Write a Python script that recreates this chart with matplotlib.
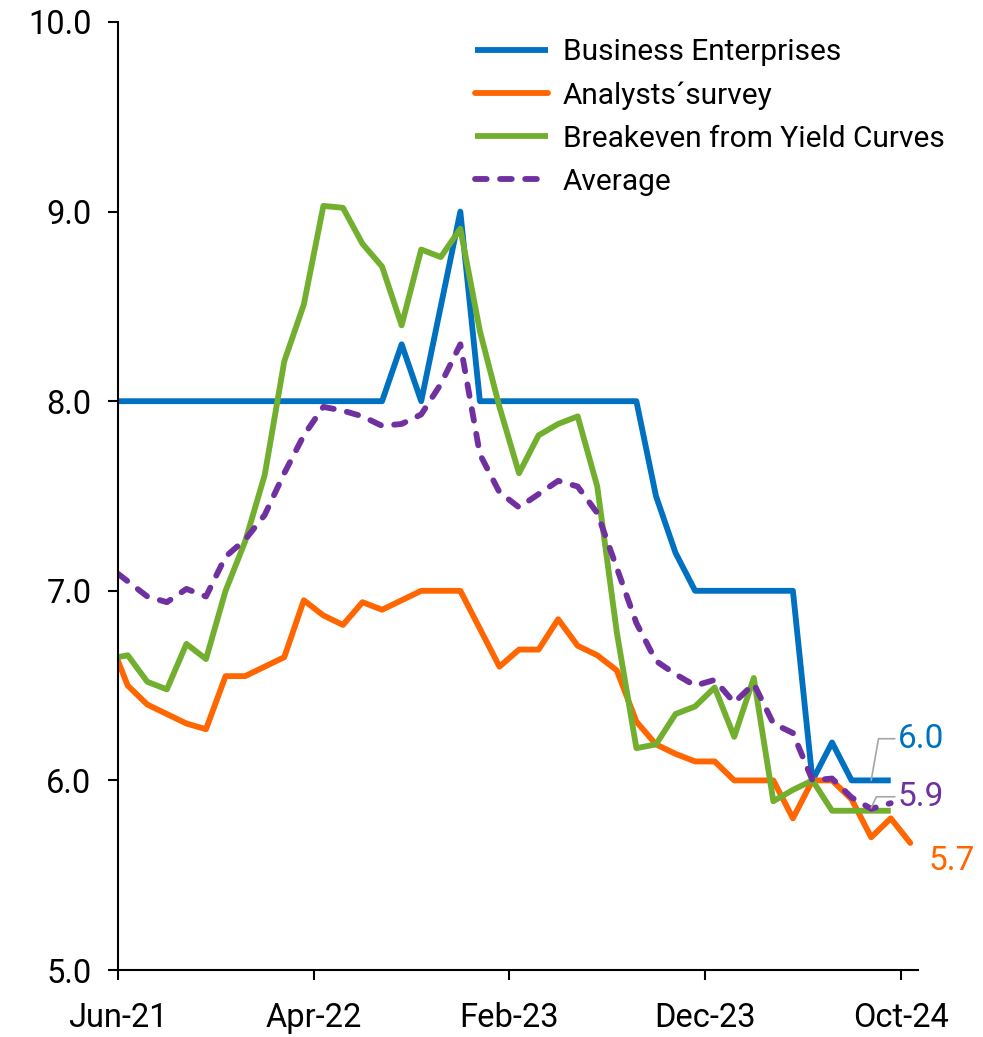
import numpy as np
import matplotlib
matplotlib.use('Agg')
import matplotlib.pyplot as plt

plt.rcParams['font.family'] = ['Roboto', 'DejaVu Sans']

# months since Jun-21 (first point at start of month, then mid-month)
months = [0] + [i + 0.5 for i in range(41)]
tick_pos = [0, 10, 20, 30, 40]
tick_labels = ['Jun-21', 'Apr-22', 'Feb-23', 'Dec-23', 'Oct-24']

business = [8.0,
            8.0, 8.0, 8.0, 8.0, 8.0, 8.0, 8.0, 8.0, 8.0, 8.0,
            8.0, 8.0, 8.0, 8.0, 8.3, 8.0, 8.5, 9.0, 8.0, 8.0,
            8.0, 8.0, 8.0, 8.0, 8.0, 8.0, 8.0, 7.5, 7.2, 7.0,
            7.0, 7.0, 7.0, 7.0, 7.0, 6.0, 6.2, 6.0, 6.0, 6.0]

analysts = [6.63,
            6.5, 6.4, 6.35, 6.3, 6.27, 6.55, 6.55, 6.6, 6.65, 6.95,
            6.87, 6.82, 6.94, 6.9, 6.95, 7.0, 7.0, 7.0, 6.8, 6.6,
            6.69, 6.69, 6.85, 6.71, 6.66, 6.58, 6.31, 6.19, 6.14, 6.1,
            6.1, 6.0, 6.0, 6.0, 5.8, 6.0, 6.0, 5.9, 5.7, 5.8,
            5.67]

breakeven = [6.65,
             6.66, 6.52, 6.48, 6.72, 6.64, 7.0, 7.26, 7.61, 8.21, 8.51,
             9.03, 9.02, 8.83, 8.71, 8.4, 8.8, 8.76, 8.91, 8.37, 7.97,
             7.62, 7.82, 7.88, 7.92, 7.55, 6.78, 6.17, 6.19, 6.35, 6.39,
             6.49, 6.23, 6.54, 5.89, 5.95, 6.0, 5.84, 5.84, 5.84, 5.84]

average = [7.09,
           7.05, 6.97, 6.94, 7.01, 6.97, 7.18, 7.27, 7.4, 7.62, 7.82,
           7.97, 7.95, 7.92, 7.87, 7.88, 7.93, 8.09, 8.3, 7.72, 7.52,
           7.44, 7.51, 7.58, 7.55, 7.41, 7.12, 6.83, 6.63, 6.56, 6.5,
           6.53, 6.41, 6.51, 6.3, 6.25, 6.0, 6.01, 5.91, 5.85, 5.88]

c_blue = '#0070C0'
c_orange = '#FF6600'
c_green = '#72AF2F'
c_purple = '#7030A0'

fig = plt.figure(figsize=(9.83, 10.37), dpi=100)
ax = fig.add_axes([0.12, 0.0646, 0.814, 0.9142])

lw = 4.2
n = len(business)
ax.plot(months[:n], business, color=c_blue, lw=lw, solid_capstyle='butt', label='Business Enterprises')
ax.plot(months[:len(analysts)], analysts, color=c_orange, lw=lw, solid_capstyle='round',
        label='Analysts\u00b4survey')
ax.plot(months[:n], breakeven, color=c_green, lw=lw, solid_capstyle='butt', label='Breakeven from Yield Curves')
ax.plot(months[:n], average, color=c_purple, lw=lw, dashes=(2.0, 2.3),
        dash_capstyle='round', label='Average')

ax.set_xlim(0, 40.9)
ax.set_ylim(5, 10)
ax.set_yticks([5, 6, 7, 8, 9, 10])
ax.set_yticklabels(['%.1f' % v for v in [5, 6, 7, 8, 9, 10]])
ax.set_xticks(tick_pos)
ax.set_xticklabels(tick_labels)
ax.tick_params(axis='both', labelsize=23.5, length=7, width=1.5, direction='out', colors='black')
ax.tick_params(axis='x', pad=16)
ax.tick_params(axis='y', pad=12)
for s in ['top', 'right']:
    ax.spines[s].set_visible(False)
for s in ['left', 'bottom']:
    ax.spines[s].set_linewidth(1.5)

leg = ax.legend(loc='upper left', bbox_to_anchor=(0.483, 0.963), bbox_transform=fig.transFigure,
                frameon=False, fontsize=21.5, borderaxespad=0, borderpad=0,
                handlelength=2.45, handletextpad=0.5, labelspacing=0.5)

# end labels
ax.annotate('%.1f' % business[-1], xy=(months[n - 1] - 1.0, business[-1]), xytext=(19, 30),
            textcoords='offset points', color=c_blue, fontsize=24, va='center', ha='left',
            arrowprops=dict(arrowstyle='-', color='#A6A6A6', lw=1.2,
                            connectionstyle='angle,angleA=0,angleB=80,rad=0', shrinkA=0, shrinkB=0))
ax.annotate('%.1f' % average[-1], xy=(months[n - 1] - 1.0, 5.855), xytext=(19, 8),
            textcoords='offset points', color=c_purple, fontsize=24, va='center', ha='left',
            arrowprops=dict(arrowstyle='-', color='#A6A6A6', lw=1.2,
                            connectionstyle='angle,angleA=0,angleB=65,rad=0', shrinkA=0, shrinkB=0))
ax.annotate('%.1f' % analysts[-1], xy=(months[len(analysts) - 1], analysts[-1]), xytext=(13, -13),
            textcoords='offset points', color=c_orange, fontsize=24, va='center', ha='left')

fig.savefig('out.png', dpi=100)
